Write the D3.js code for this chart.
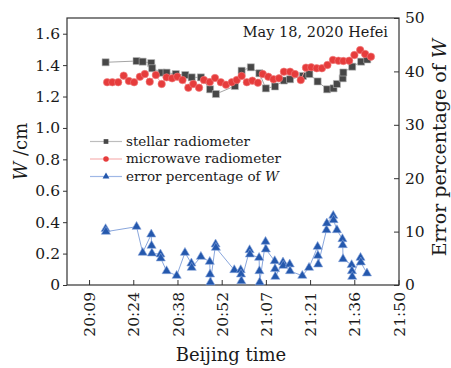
<!DOCTYPE html>
<html>
<head>
<meta charset="utf-8">
<script src="https://cdn.jsdelivr.net/npm/d3@7.9.0/dist/d3.min.js"></script>
<style>
  body { margin: 0; background: #fff; }
  svg { display: block; font-family: "DejaVu Serif", serif; }
</style>
</head>
<body>
<div id="chart"></div>
<script>
/* ---------- data (minutes after 20:00) --------- */
const stellarTime = [15.0, 25.1, 27.1, 29.9, 30.2, 33.3, 34.9, 37.9, 41.0, 43.1, 46.1, 49.1, 51.0,
  57.2, 59.4, 62.4, 65.2, 67.3, 70.3, 73.2, 75.2, 79.4, 81.5, 84.2, 87.3, 89.4, 90.5, 92.4, 92.6,
  95.5, 98.4, 100.4];
const stellarW = [1.418, 1.426, 1.422, 1.413, 1.380, 1.352, 1.352, 1.343, 1.337, 1.322, 1.322, 1.246, 1.216,
  1.267, 1.364, 1.386, 1.348, 1.252, 1.264, 1.302, 1.310, 1.331, 1.343, 1.296, 1.246, 1.252, 1.280, 1.316, 1.353,
  1.390, 1.422, 1.436];

const microTime = [15.5, 17.2, 19.1, 20.9, 22.6, 24.3, 26.2, 27.8, 29.4, 31.4, 33.3, 34.9, 36.7, 38.4,
  40.1, 42.0, 43.6, 45.5, 47.1, 49.0, 50.7, 52.6, 54.3, 56.2, 57.8, 59.4, 61.1, 62.9, 64.7, 66.3,
  68.1, 69.8, 71.6, 73.2, 75.2, 76.8, 78.7, 80.4, 82.1, 83.9, 85.6, 87.4, 89.2, 91.0, 92.6, 94.5,
  96.2, 98.1, 99.7, 101.6];
const microW = [1.291, 1.291, 1.291, 1.333, 1.299, 1.291, 1.326, 1.343, 1.294, 1.337, 1.280, 1.322, 1.316, 1.326,
  1.305, 1.256, 1.280, 1.256, 1.305, 1.292, 1.318, 1.291, 1.275, 1.291, 1.305, 1.331, 1.291, 1.301, 1.288, 1.343,
  1.326, 1.310, 1.316, 1.358, 1.358, 1.343, 1.305, 1.384, 1.386, 1.380, 1.380, 1.401, 1.433, 1.428, 1.426, 1.428,
  1.464, 1.496, 1.471, 1.454];

const errTime = [15.0, 15.1, 25.1, 27.1, 29.9, 30.0, 30.1, 32.9, 33.0, 34.9, 38.2, 40.9, 43.0, 43.1, 46.1,
  49.0, 49.1, 49.2, 50.9, 51.0, 57.0, 59.1, 59.2, 59.3, 62.0, 62.1, 65.1, 65.2, 65.3, 67.2, 67.3,
  70.2, 70.3, 70.4, 72.9, 73.0, 75.1, 75.2, 79.2, 81.4, 84.2, 84.3, 84.4, 87.1, 87.2, 89.3, 89.4,
  90.5, 92.3, 92.4, 92.5, 95.3, 95.4, 95.5, 98.2, 98.3, 100.3];
const errPct = [10.49, 9.98, 10.92, 6.05, 9.49, 7.36, 5.94, 5.75, 5.00, 2.62, 1.74, 6.05, 4.06, 3.24, 5.30,
  4.36, 2.00, 0.51, 7.62, 6.99, 2.81, 2.81, 2.00, 0.75, 6.55, 5.75, 5.11, 2.62, 0.51, 8.11, 6.69,
  4.49, 3.00, 1.55, 4.25, 3.61, 3.88, 2.62, 1.74, 3.24, 7.17, 5.49, 3.88, 10.30, 11.55, 12.98, 12.17,
  10.30, 8.61, 7.49, 4.87, 3.75, 2.62, 1.55, 5.11, 4.25, 2.19];

const xTickValues = [9.6, 24.03, 38.46, 52.89, 67.31, 81.74, 96.17, 110.6];
const xTickLabels = ['20:09', '20:24', '20:38', '20:52', '21:07', '21:21', '21:36', '21:50'];
const leftTicks = [0, 0.2, 0.4, 0.6, 0.8, 1.0, 1.2, 1.4, 1.6];
const rightTicks = [0, 10, 20, 30, 40, 50];

const seriesNames = ['stellar radiometer', 'microwave radiometer', 'error percentage of '];

/* ---------- layout --------- */
const W = 451, H = 368;
const m = { l: 67, r: 399, t: 18, b: 285 };
const ink = '#1a1a1a';

const svg = d3.select('#chart').append('svg')
  .attr('width', W).attr('height', H);

const x = d3.scaleLinear().domain([2.4, 110.6]).range([m.l, m.r - 0.5]);
const yL = d3.scaleLinear().domain([0, 1.7]).range([m.b, m.t]);
const yR = d3.scaleLinear().domain([0, 50]).range([m.b, m.t]);

/* ---------- axes --------- */
const axisColor = '#333';

svg.append('g')
  .attr('transform', `translate(${m.l},0)`)
  .call(d3.axisLeft(yL).tickValues(leftTicks).tickSize(4).tickPadding(3)
    .tickFormat(d => d === 0 ? '0' : d3.format('.1f')(d)))
  .call(g => g.select('.domain').remove());

svg.append('g')
  .attr('transform', `translate(${m.r},0)`)
  .call(d3.axisRight(yR).tickValues(rightTicks).tickSize(-5).tickPadding(6))
  .call(g => g.select('.domain').remove());

const xg = svg.append('g')
  .attr('transform', `translate(0,${m.b})`)
  .call(d3.axisBottom(x).tickValues(xTickValues).tickSize(-5)
    .tickFormat((d, i) => xTickLabels[i]))
  .call(g => g.select('.domain').remove());

xg.selectAll('.tick text')
  .attr('transform', 'rotate(-90)')
  .attr('text-anchor', 'end')
  .attr('x', -7).attr('y', 0).attr('dy', '0.36em');

svg.selectAll('.tick text').attr('font-size', 15.5).attr('fill', ink)
  .attr('font-family', '"DejaVu Serif", serif');
svg.selectAll('.tick line').attr('stroke', axisColor);

svg.append('rect')
  .attr('x', m.l).attr('y', m.t)
  .attr('width', m.r - m.l).attr('height', m.b - m.t)
  .attr('fill', 'none').attr('stroke', axisColor).attr('stroke-width', 1.2);

/* ---------- titles --------- */
svg.append('text')
  .attr('transform', `translate(27,${(m.t + m.b) / 2}) rotate(-90)`)
  .attr('text-anchor', 'middle').attr('font-size', 18).attr('fill', ink)
  .html('<tspan font-style="italic">W</tspan> /cm');

svg.append('text')
  .attr('transform', `translate(446,${(m.t + m.b) / 2 - 4}) rotate(-90)`)
  .attr('text-anchor', 'middle').attr('font-size', 19).attr('fill', ink)
  .html('Error percentage of <tspan font-style="italic">W</tspan>');

svg.append('text')
  .attr('x', 231).attr('y', 361)
  .attr('text-anchor', 'middle').attr('font-size', 18).attr('fill', ink)
  .text('Beijing time');

svg.append('text')
  .attr('x', 388).attr('y', 37)
  .attr('text-anchor', 'end').attr('font-size', 14.5).attr('fill', ink)
  .text('May 18, 2020 Hefei');

/* ---------- series --------- */
const stellar = stellarTime.map((t, i) => ({ t, v: stellarW[i] }));
const micro = microTime.map((t, i) => ({ t, v: microW[i] }));
const err = errTime.map((t, i) => ({ t, v: errPct[i] }));

const colors = {
  stellar: '#474747', stellarLine: '#9a9a9a',
  micro: '#e63c3c', microLine: '#f4a3a3',
  err: '#2458ad', errLine: '#7c9cd8'
};

const sq = d3.symbol(d3.symbolSquare, 50);
const ci = d3.symbol(d3.symbolCircle, 44);
const tri = d3.symbol(d3.symbolTriangle, 36);

function drawSeries(data, y, lineColor, color, sym, stroke) {
  svg.append('path')
    .datum(data)
    .attr('fill', 'none').attr('stroke', lineColor).attr('stroke-width', 0.9)
    .attr('d', d3.line().x(d => x(d.t)).y(d => y(d.v)));
  svg.append('g').selectAll('path')
    .data(data).join('path')
    .attr('transform', d => `translate(${x(d.t)},${y(d.v)})`)
    .attr('d', sym)
    .attr('fill', color)
    .attr('stroke', stroke).attr('stroke-width', 0.6);
}

drawSeries(stellar, yL, colors.stellarLine, colors.stellar, sq, '#bbb');
drawSeries(micro, yL, colors.microLine, colors.micro, ci, '#f08080');
drawSeries(err, yR, colors.errLine, colors.err, tri, '#8aa6dc');

/* ---------- legend --------- */
const legend = [
  { name: seriesNames[0], line: '#bdbdbd', c: colors.stellar, sym: d3.symbol(d3.symbolSquare, 22) },
  { name: seriesNames[1], line: '#f7b3b3', c: colors.micro, sym: d3.symbol(d3.symbolCircle, 24) },
  { name: seriesNames[2], line: '#9fb8e6', c: colors.err, sym: d3.symbol(d3.symbolTriangle, 20) }
];

const lg = svg.append('g').selectAll('g')
  .data(legend).join('g')
  .attr('transform', (d, i) => `translate(90,${141.5 + i * 17.5})`);

lg.append('line').attr('x1', 0).attr('x2', 32)
  .attr('stroke', d => d.line).attr('stroke-width', 1.2);
lg.append('path').attr('transform', 'translate(16,0)')
  .attr('d', d => d.sym()).attr('fill', d => d.c);
lg.append('text')
  .attr('x', 36).attr('dy', '0.33em')
  .attr('font-size', 13.5).attr('fill', ink)
  .html((d, i) => i === 2 ? d.name + '<tspan font-style="italic">W</tspan>' : d.name);
</script>
</body>
</html>
